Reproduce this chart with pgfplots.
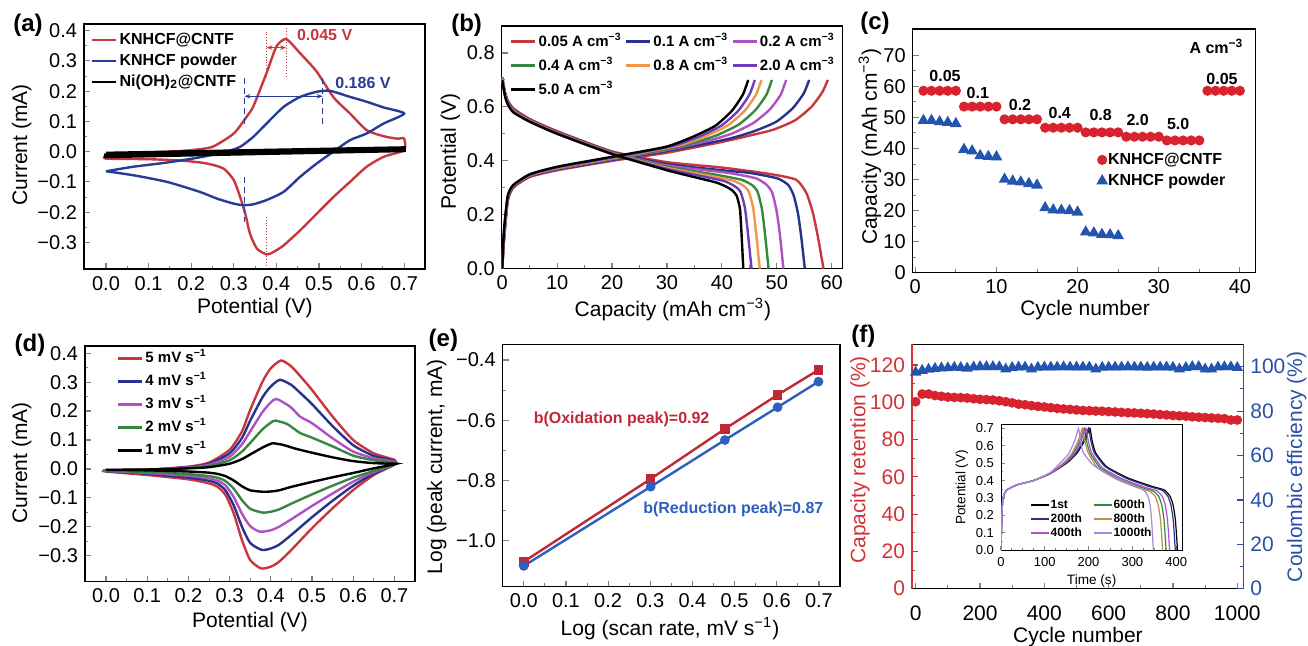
\documentclass[border=0pt]{standalone}
\usepackage{fontspec}
\setmainfont{Liberation Sans}
\usepackage{pgfplots}
\pgfplotsset{compat=1.18}
\usetikzlibrary{arrows.meta}

\definecolor{cvred}{RGB}{200,55,62}
\definecolor{cvblue}{RGB}{40,60,150}
\definecolor{navy}{RGB}{40,50,140}
\definecolor{rmag}{RGB}{175,80,195}
\definecolor{rgreen}{RGB}{55,135,65}
\definecolor{rorange}{RGB}{240,150,70}
\definecolor{rpurple}{RGB}{110,60,190}
\definecolor{dotred}{RGB}{215,35,45}
\definecolor{triblue}{RGB}{35,85,175}
\definecolor{ered}{RGB}{190,40,55}
\definecolor{eblue}{RGB}{45,95,190}
\definecolor{fred}{RGB}{210,50,55}
\definecolor{fblue}{RGB}{40,80,170}
\definecolor{ftan}{RGB}{185,140,80}
\definecolor{flav}{RGB}{165,135,225}

\pgfplotsset{
  panel/.style={
    scale only axis,
    anchor=north west,
    tick align=inside,
    tick pos=left,
    minor tick num=1,
    major tick length=3pt,
    minor tick length=1.7pt,
    axis line style={line width=0.7pt},
    major tick style={line width=0.6pt},
    minor tick style={line width=0.5pt},
    tick label style={font=\fontsize{10}{12}\selectfont},
    label style={font=\fontsize{10.5}{12}\selectfont},
    /pgf/number format/assume math mode=true,
    legend cell align=left,
    legend style={draw=none, fill=none, inner sep=0pt, outer sep=0pt,
      font=\fontsize{8}{9.6}\selectfont\bfseries, anchor=north west,
      nodes={text height=6pt, text depth=1.8pt, inner sep=1pt}},
    every axis plot/.append style={line width=1.2pt},
  },
  xlab/.style 2 args={xlabel style={at={(axis description cs:#1,#2)}, anchor=center}},
  ylab/.style 2 args={ylabel style={at={(axis description cs:#1,#2)}, anchor=center}},
  lineleg/.style={legend image code/.code={\draw[##1,line width=1.4pt] (0pt,0pt) -- (12pt,0pt);}},
}

\begin{document}
\begin{tikzpicture}
\path[use as bounding box] (0,0) rectangle (654pt,-323pt);

\begin{scope}[font=\fontsize{12}{14}\selectfont\bfseries]
\node at (14pt,-12.5pt) {(a)};
\node at (233.3pt,-12.5pt) {(b)};
\node at (437.5pt,-11.7pt) {(c)};
\node at (15pt,-172.5pt) {(d)};
\node at (221.7pt,-170pt) {(e)};
\node at (431.7pt,-168.3pt) {(f)};
\end{scope}

% ---------------- (a) CV comparison
\begin{axis}[panel, at={(42pt,-12pt)}, width=170.5pt, height=122.5pt,
  xmin=-0.0517, xmax=0.749, ymin=-0.388, ymax=0.422,
  xtick={0,0.1,0.2,0.3,0.4,0.5,0.6,0.7},
  xticklabels={0.0,0.1,0.2,0.3,0.4,0.5,0.6,0.7},
  ytick={-0.3,-0.2,-0.1,0,0.1,0.2,0.3,0.4},
  yticklabels={−0.3,−0.2,−0.1,0.0,0.1,0.2,0.3,0.4},
  xlabel={Potential (V)}, ylabel={Current (mA)},
  xlab={0.501}{-0.159}, ylab={-0.183}{0.506},
  lineleg, legend style={at={(0.02,0.975)}, /tikz/row sep=0.7pt},
]
\addplot[cvred, smooth, tension=0.4] coordinates {
(0,-0.012)(0.05,-0.008)(0.1,-0.004)(0.15,0.0)(0.2,0.005)(0.25,0.016)(0.3,0.06)
(0.33,0.115)(0.346,0.15)(0.377,0.26)(0.40,0.347)(0.423,0.372)(0.456,0.325)
(0.495,0.264)(0.534,0.18)(0.573,0.126)(0.612,0.071)(0.652,0.051)(0.683,0.043)
(0.70,0.043)(0.70,0.005)(0.652,-0.017)(0.612,-0.05)(0.573,-0.1)(0.534,-0.15)
(0.495,-0.205)(0.456,-0.26)(0.417,-0.31)(0.393,-0.332)(0.377,-0.34)(0.354,-0.32)
(0.338,-0.271)(0.327,-0.205)(0.315,-0.15)(0.3,-0.094)(0.276,-0.056)(0.236,-0.039)
(0.18,-0.03)(0.1,-0.025)(0,-0.023)(0,-0.012)};
\addlegendentry{KNHCF@CNTF}
\addplot[cvblue, smooth, tension=0.4] coordinates {
(0,-0.065)(0.064,-0.05)(0.143,-0.036)(0.22,-0.019)(0.283,0.0)(0.315,0.016)
(0.346,0.049)(0.377,0.093)(0.417,0.148)(0.456,0.181)(0.495,0.198)(0.526,0.201)
(0.573,0.181)(0.612,0.165)(0.652,0.146)(0.70,0.126)(0.652,0.093)(0.612,0.06)
(0.573,0.038)(0.534,0.0)(0.495,-0.039)(0.456,-0.083)(0.417,-0.133)(0.377,-0.16)
(0.346,-0.174)(0.323,-0.177)(0.3,-0.172)(0.26,-0.155)(0.22,-0.133)(0.143,-0.1)
(0.064,-0.078)(0,-0.065)};
\addlegendentry{KNHCF powder}
\addplot[black, line width=1.8pt] coordinates {
(0,-0.006)(0.7,0.012)(0.7,0.004)(0,-0.016)(0,-0.006)};
\addlegendentry{Ni(OH)\textsubscript{2}@CNTF}
\draw[cvred, thin, densely dotted] (axis cs:0.377,0.397) -- (axis cs:0.377,0.248);
\draw[cvred, thin, densely dotted] (axis cs:0.377,-0.216) -- (axis cs:0.377,-0.381);
\draw[cvred, thin, densely dotted] (axis cs:0.423,0.408) -- (axis cs:0.423,0.248);
\draw[cvred, line width=0.8pt, {Stealth[length=3pt]}-{Stealth[length=3pt]}] (axis cs:0.377,0.344) -- (axis cs:0.423,0.344);
\node[cvred, anchor=west, font=\fontsize{8}{9.6}\selectfont\bfseries] at (axis cs:0.432,0.386) {0.045 V};
\draw[cvblue, thin, densely dashed] (axis cs:0.325,0.242) -- (axis cs:0.325,0.091);
\draw[cvblue, thin, densely dashed] (axis cs:0.325,-0.083) -- (axis cs:0.325,-0.232);
\draw[cvblue, thin, densely dashed] (axis cs:0.509,0.242) -- (axis cs:0.509,0.091);
\draw[cvblue, line width=0.5pt, {Stealth[length=3pt]}-{Stealth[length=3pt]}] (axis cs:0.325,0.183) -- (axis cs:0.509,0.183);
\node[cvblue, anchor=west, font=\fontsize{8}{9.6}\selectfont\bfseries] at (axis cs:0.522,0.228) {0.186 V};
\end{axis}

% ---------------- (b) GCD curves
\begin{axis}[panel, at={(250.85pt,-13pt)}, width=170.5pt, height=121.35pt,
  xmin=-0.1, xmax=62, ymin=0, ymax=0.9,
  xtick={0,10,20,30,40,50,60},
  ytick={0,0.2,0.4,0.6,0.8}, yticklabels={0.0,0.2,0.4,0.6,0.8},
  xlabel={Capacity (mAh cm\textsuperscript{−3})}, ylabel={Potential (V)},
  xlab={0.502}{-0.170}, ylab={-0.150}{0.482},
  legend image code/.code={\draw[#1,line width=1.4pt] (0pt,0pt) -- (12pt,0pt);},
  legend columns=3,
  legend style={at={(0.024,0.975)}, font=\fontsize{7.5}{9}\selectfont\bfseries,
    /tikz/row sep=2.2pt,
    /tikz/every even column/.append style={column sep=0.5pt}},
  every axis plot/.append style={smooth, tension=0.35},
]
\addplot[cvred] coordinates {(0,0)(0.3,0.1)(1,0.25)(2,0.30)(5,0.34)(10,0.365)(20,0.40)(30,0.43)(40,0.47)(44.3,0.49)(49.3,0.515)(53.3,0.55)(56.3,0.60)(58.3,0.655)(59.3,0.70)};
\addlegendentry{0.05 A cm\textsuperscript{−3}}
\addplot[cvred, forget plot] coordinates {(0,0.71)(0.5,0.655)(1,0.625)(2,0.595)(5,0.555)(10,0.51)(20,0.435)(30,0.395)(40,0.375)(48.5,0.352)(53.5,0.33)(55.4,0.28)(56.6,0.205)(57.6,0.106)(58.5,0)};
\addplot[navy] coordinates {(0,0)(0.3,0.1)(1,0.255)(2,0.303)(5,0.343)(10,0.368)(20,0.403)(30,0.436)(40.9,0.48)(45.9,0.51)(49.9,0.545)(52.9,0.595)(54.9,0.65)(55.9,0.70)};
\addlegendentry{0.1 A cm\textsuperscript{−3}}
\addplot[navy, forget plot] coordinates {(0,0.71)(0.5,0.65)(1,0.62)(2,0.59)(5,0.552)(10,0.507)(20,0.432)(30,0.388)(40,0.365)(45.1,0.355)(50.1,0.335)(52.1,0.31)(53.1,0.27)(53.9,0.20)(54.5,0.11)(55.1,0)};
\addplot[rmag] coordinates {(0,0)(0.3,0.11)(1,0.26)(2,0.305)(5,0.345)(10,0.37)(20,0.406)(30,0.44)(36.7,0.47)(41.7,0.50)(45.7,0.54)(48.7,0.59)(50.7,0.645)(51.7,0.70)};
\addlegendentry{0.2 A cm\textsuperscript{−3}}
\addplot[rmag, forget plot] coordinates {(0,0.71)(0.5,0.648)(1,0.618)(2,0.588)(5,0.55)(10,0.505)(20,0.43)(30,0.383)(41.2,0.355)(46.2,0.335)(48.2,0.31)(49.2,0.28)(50.0,0.21)(50.6,0.12)(51.2,0)};
\addplot[rgreen] coordinates {(0,0)(0.3,0.12)(1,0.262)(2,0.307)(5,0.346)(10,0.372)(20,0.408)(30,0.443)(34.1,0.462)(39.1,0.495)(43.1,0.535)(46.1,0.588)(48.1,0.645)(49.1,0.70)};
\addlegendentry{0.4 A cm\textsuperscript{−3}}
\addplot[rgreen, forget plot] coordinates {(0,0.705)(0.5,0.646)(1,0.616)(2,0.586)(5,0.549)(10,0.504)(20,0.43)(30,0.378)(38.5,0.35)(43.5,0.33)(45.5,0.31)(46.5,0.285)(47.3,0.22)(47.9,0.12)(48.5,0)};
\addplot[rorange] coordinates {(0,0)(0.3,0.12)(1,0.265)(2,0.308)(5,0.347)(10,0.374)(20,0.41)(32.2,0.457)(37.2,0.493)(41.2,0.533)(44.2,0.587)(46.2,0.645)(47.2,0.70)};
\addlegendentry{0.8 A cm\textsuperscript{−3}}
\addplot[rorange, forget plot] coordinates {(0,0.705)(0.5,0.644)(1,0.614)(2,0.584)(5,0.548)(10,0.503)(20,0.428)(30,0.374)(36.9,0.348)(41.9,0.327)(43.9,0.308)(44.9,0.285)(45.7,0.225)(46.3,0.12)(46.9,0)};
\addplot[rpurple] coordinates {(0,0)(0.3,0.13)(1,0.267)(2,0.309)(5,0.348)(10,0.376)(20,0.412)(31,0.455)(36,0.491)(40,0.532)(43,0.586)(45,0.645)(46,0.70)};
\addlegendentry{2.0 A cm\textsuperscript{−3}}
\addplot[rpurple, forget plot] coordinates {(0,0.70)(0.5,0.642)(1,0.612)(2,0.582)(5,0.546)(10,0.502)(20,0.427)(30,0.37)(35.4,0.347)(40.4,0.325)(42.4,0.305)(43.4,0.285)(44.2,0.225)(44.8,0.12)(45.4,0)};
\addplot[black] coordinates {(0,0)(0.3,0.14)(1,0.27)(2,0.31)(5,0.35)(10,0.378)(20,0.415)(29.8,0.452)(34.8,0.49)(38.8,0.53)(41.8,0.585)(43.8,0.645)(44.8,0.70)};
\addlegendentry{5.0 A cm\textsuperscript{−3}}
\addplot[black, forget plot] coordinates {(0,0.70)(0.5,0.64)(1,0.61)(2,0.58)(5,0.545)(10,0.50)(20,0.425)(30,0.365)(33.9,0.345)(38.9,0.32)(40.9,0.303)(41.9,0.29)(42.7,0.27)(43.3,0.22)(43.6,0.12)(43.9,0)};
\end{axis}

% ---------------- (c) rate capability
\begin{axis}[panel, at={(456.35pt,-14.5pt)}, width=171.3pt, height=121.85pt,
  xmin=-0.32, xmax=41.9, ymin=0, ymax=78.5,
  xtick={0,10,20,30,40}, ytick={0,10,20,30,40,50,60,70},
  xlabel={Cycle number}, ylabel={Capacity (mAh cm\textsuperscript{−3})},
  xlab={0.503}{-0.153}, ylab={-0.125}{0.517},
  legend style={at={(0.542,0.503)}, /tikz/row sep=0.7pt},
  legend image code/.code={\draw[mark repeat=2,mark phase=2,#1] plot coordinates {(0pt,0pt)(3pt,0pt)(6pt,0pt)};},
]
\addplot[only marks, mark=*, mark size=1.9pt, dotred, draw=none] coordinates {
(1,58.6)(2,58.6)(3,58.6)(4,58.6)(5,58.6)(6,53.5)(7,53.5)(8,53.5)(9,53.5)(10,53.5)
(11,49.4)(12,49.4)(13,49.4)(14,49.4)(15,49.4)(16,46.7)(17,46.7)(18,46.7)(19,46.7)(20,46.7)
(21,45.2)(22,45.2)(23,45.2)(24,45.2)(25,45.2)(26,43.8)(27,43.8)(28,43.8)(29,43.8)(30,43.8)
(31,42.6)(32,42.6)(33,42.6)(34,42.6)(35,42.6)(36,58.6)(37,58.6)(38,58.6)(39,58.6)(40,58.6)};
\addlegendentry{KNHCF@CNTF}
\addplot[only marks, mark=triangle*, mark size=2.2pt, triblue, draw=none] coordinates {
(1,49.0)(2,49.0)(3,48.6)(4,48.4)(5,48.0)(6,39.7)(7,39.2)(8,37.7)(9,37.4)(10,37.3)
(11,30.1)(12,29.5)(13,29.2)(14,28.7)(15,28.2)(16,20.9)(17,20.2)(18,20.1)(19,20.0)(20,19.5)
(21,13.1)(22,12.8)(23,12.3)(24,12.2)(25,11.9)};
\addlegendentry{KNHCF powder}
\begin{scope}[font=\fontsize{8}{9.6}\selectfont\bfseries]
\node at (axis cs:3.66,63.3) {0.05};
\node at (axis cs:7.7,58) {0.1};
\node at (axis cs:12.9,54) {0.2};
\node at (axis cs:17.8,51.3) {0.4};
\node at (axis cs:22.85,50.8) {0.8};
\node at (axis cs:27.4,49.2) {2.0};
\node at (axis cs:32.4,47.9) {5.0};
\node at (axis cs:37.8,62.4) {0.05};
\node[anchor=east] at (axis cs:41.3,72.8) {A cm\textsuperscript{−3}};
\end{scope}
\end{axis}

% ---------------- (d) CV at scan rates
\begin{axis}[panel, at={(42.5pt,-173pt)}, width=165pt, height=117.85pt,
  xmin=-0.051, xmax=0.75, ymin=-0.39, ymax=0.425,
  xtick={0,0.1,0.2,0.3,0.4,0.5,0.6,0.7},
  xticklabels={0.0,0.1,0.2,0.3,0.4,0.5,0.6,0.7},
  ytick={-0.3,-0.2,-0.1,0,0.1,0.2,0.3,0.4},
  yticklabels={−0.3,−0.2,−0.1,0.0,0.1,0.2,0.3,0.4},
  xlabel={Potential (V)}, ylabel={Current (mA)},
  xlab={0.5}{-0.170}, ylab={-0.192}{0.504},
  lineleg, legend style={at={(0.096,0.989)}, font=\fontsize{7.5}{9}\selectfont\bfseries, /tikz/row sep=1.7pt},
  every axis plot/.append style={smooth, tension=0.4},
]
\addplot[cvred] coordinates {
(0,-0.005)(0.1,-0.003)(0.2,0.008)(0.25,0.022)(0.3,0.066)(0.33,0.13)(0.35,0.204)(0.38,0.302)(0.40,0.348)(0.425,0.375)(0.45,0.354)(0.475,0.315)(0.5,0.273)(0.55,0.181)(0.6,0.10)(0.65,0.054)(0.7,0.031)
(0.7,0.015)(0.65,-0.021)(0.6,-0.073)(0.55,-0.136)(0.5,-0.205)(0.45,-0.28)(0.42,-0.321)(0.40,-0.338)(0.376,-0.344)(0.35,-0.315)(0.33,-0.246)(0.31,-0.154)(0.29,-0.09)(0.27,-0.061)(0.25,-0.05)(0.2,-0.036)(0.1,-0.021)(0,-0.009)(0,-0.005)};
\addlegendentry{5 mV s\textsuperscript{−1}}
\addplot[navy] coordinates {
(0,-0.005)(0.1,-0.003)(0.2,0.006)(0.25,0.018)(0.3,0.054)(0.33,0.107)(0.35,0.167)(0.38,0.248)(0.40,0.285)(0.422,0.308)(0.45,0.29)(0.475,0.258)(0.5,0.224)(0.55,0.148)(0.6,0.082)(0.65,0.045)(0.7,0.028)
(0.7,0.015)(0.65,-0.016)(0.6,-0.058)(0.55,-0.11)(0.5,-0.167)(0.45,-0.228)(0.42,-0.262)(0.40,-0.275)(0.378,-0.28)(0.35,-0.256)(0.33,-0.2)(0.31,-0.126)(0.29,-0.074)(0.27,-0.05)(0.25,-0.041)(0.2,-0.03)(0.1,-0.017)(0,-0.008)(0,-0.005)};
\addlegendentry{4 mV s\textsuperscript{−1}}
\addplot[rmag] coordinates {
(0,-0.004)(0.1,-0.003)(0.2,0.005)(0.25,0.014)(0.3,0.042)(0.33,0.085)(0.35,0.13)(0.38,0.197)(0.40,0.23)(0.414,0.242)(0.447,0.215)(0.471,0.181)(0.5,0.158)(0.55,0.106)(0.6,0.06)(0.65,0.037)(0.7,0.025)
(0.7,0.015)(0.65,-0.011)(0.6,-0.044)(0.55,-0.085)(0.5,-0.128)(0.45,-0.174)(0.42,-0.2)(0.40,-0.212)(0.374,-0.217)(0.35,-0.198)(0.33,-0.155)(0.31,-0.097)(0.29,-0.057)(0.27,-0.04)(0.25,-0.033)(0.2,-0.024)(0.1,-0.014)(0,-0.007)(0,-0.004)};
\addlegendentry{3 mV s\textsuperscript{−1}}
\addplot[rgreen] coordinates {
(0,-0.004)(0.1,-0.003)(0.2,0.003)(0.25,0.01)(0.3,0.03)(0.33,0.06)(0.35,0.09)(0.38,0.137)(0.40,0.16)(0.411,0.167)(0.44,0.155)(0.47,0.125)(0.5,0.108)(0.55,0.078)(0.6,0.046)(0.65,0.03)(0.7,0.022)
(0.7,0.016)(0.65,-0.007)(0.6,-0.03)(0.55,-0.058)(0.5,-0.088)(0.45,-0.12)(0.42,-0.14)(0.40,-0.148)(0.38,-0.151)(0.35,-0.138)(0.33,-0.108)(0.31,-0.068)(0.29,-0.042)(0.27,-0.03)(0.25,-0.025)(0.2,-0.018)(0.1,-0.011)(0,-0.006)(0,-0.004)};
\addlegendentry{2 mV s\textsuperscript{−1}}
\addplot[black] coordinates {
(0,-0.003)(0.1,-0.002)(0.2,0.002)(0.25,0.006)(0.3,0.018)(0.33,0.034)(0.35,0.05)(0.38,0.074)(0.40,0.087)(0.405,0.089)(0.43,0.083)(0.46,0.07)(0.5,0.056)(0.55,0.04)(0.6,0.027)(0.65,0.02)(0.7,0.018)
(0.7,0.016)(0.65,0.002)(0.6,-0.014)(0.55,-0.029)(0.5,-0.045)(0.45,-0.062)(0.42,-0.074)(0.40,-0.078)(0.38,-0.079)(0.35,-0.074)(0.33,-0.06)(0.31,-0.04)(0.29,-0.025)(0.27,-0.017)(0.25,-0.013)(0.2,-0.009)(0.1,-0.005)(0,-0.003)};
\addlegendentry{1 mV s\textsuperscript{−1}}
\end{axis}

% ---------------- (e) log-log
\begin{axis}[panel, at={(251.35pt,-172.15pt)}, width=168.65pt, height=121.2pt,
  xmin=-0.05, xmax=0.75, ymin=-1.153, ymax=-0.348,
  xtick={0,0.1,0.2,0.3,0.4,0.5,0.6,0.7},
  xticklabels={0.0,0.1,0.2,0.3,0.4,0.5,0.6,0.7},
  ytick={-1.0,-0.8,-0.6,-0.4}, yticklabels={−1.0,−0.8,−0.6,−0.4},
  xlabel={Log (scan rate, mV s\textsuperscript{−1})}, ylabel={Log (peak current, mA)},
  xlab={0.496}{-0.172}, ylab={-0.196}{0.495},
]
\addplot[ered, mark=square*, mark size=1.8pt] coordinates {
(0,-1.07)(0.301,-0.795)(0.477,-0.629)(0.602,-0.516)(0.699,-0.433)};
\addplot[eblue, mark=*, mark size=1.8pt] coordinates {
(0,-1.084)(0.301,-0.821)(0.477,-0.666)(0.602,-0.557)(0.699,-0.472)};
\node[ered, font=\fontsize{8}{9.6}\selectfont\bfseries] at (axis cs:0.232,-0.596) {b(Oxidation peak)=0.92};
\node[eblue, font=\fontsize{8}{9.6}\selectfont\bfseries] at (axis cs:0.497,-0.895) {b(Reduction peak)=0.87};
\end{axis}

% ---------------- (f) cycling, twin axes
\begin{axis}[panel, at={(456pt,-172.15pt)}, width=165.65pt, height=122.2pt,
  xmin=-11.5, xmax=1018.7, ymin=0, ymax=131.1,
  tick label style={font=\fontsize{10.5}{12}\selectfont},
  xticklabel style={yshift=-5pt},
  axis y line*=left,
  y axis line style={fred},
  ytick style={fred},
  yticklabel style={text=fred}, ylabel style={text=fred},
  xtick={0,200,400,600,800,1000}, xticklabels={0,200,400,600,800,1000},
  ytick={0,20,40,60,80,100,120},
  xlabel={Cycle number}, ylabel={Capacity retention (\%)},
  xlab={0.501}{-0.196}, ylab={-0.157}{0.527},
]
\addplot[only marks, mark=*, mark size=1.8pt, dotred, draw=none] coordinates {
(0,100.3)(20,104.4)(40,104.4)(60,103.6)(80,103.2)(100,102.8)(120,102.6)(140,102.5)(160,102.3)(180,101.9)
(200,101.6)(220,101.4)(240,101.2)(260,100.8)(280,100.3)(300,99.7)(320,99.0)(340,98.7)(360,98.2)(380,97.8)
(400,97.5)(420,97.1)(440,96.7)(460,96.4)(480,96.2)(500,95.9)(520,95.6)(540,95.5)(560,95.3)(580,95.2)
(600,95.0)(620,94.8)(640,94.6)(660,94.4)(680,94.3)(700,94.1)(720,93.9)(740,93.7)(760,93.4)(780,93.2)
(800,92.9)(820,92.7)(840,92.5)(860,92.2)(880,92.0)(900,91.8)(920,91.6)(940,91.4)(960,91.2)(980,90.5)(1000,90.5)};
\end{axis}
\begin{axis}[panel, at={(456pt,-172.15pt)}, width=165.65pt, height=122.2pt,
  xmin=-11.5, xmax=1018.7, ymin=0, ymax=110.1,
  tick label style={font=\fontsize{10.5}{12}\selectfont},
  axis x line=none, axis y line*=right, ytick pos=right, yticklabel pos=right,
  y axis line style={fblue}, ytick style={fblue},
  yticklabel style={text=fblue},
  ytick={0,20,40,60,80,100},
  ylabel={Coulombic efficiency (\%)},
  ylabel style={at={(axis description cs:1.161,0.499)}, anchor=center, text=fblue},
]
\addplot[only marks, mark=triangle*, mark size=2.1pt, triblue, draw=none] coordinates {
(0,97.5)(20,98.3)(40,98.8)(60,99.2)(80,99.4)(100,99.5)(120,99.7)(140,99.6)(160,99.3)(180,99.8)
(200,100)(220,100)(240,100)(260,99.9)(280,98.9)(300,99.6)(320,99.8)(340,99.8)(360,98.9)(380,99.7)
(400,99.8)(420,99.8)(440,99.8)(460,99.9)(480,99.8)(500,99.8)(520,99.8)(540,99.8)(560,98.9)(580,99.7)
(600,99.8)(620,99.8)(640,99.8)(660,99.9)(680,99.8)(700,99.8)(720,99.7)(740,99.8)(760,99.8)(780,99.8)
(800,99.7)(820,98.9)(840,99.6)(860,100)(880,100)(900,98.9)(920,98.9)(940,99.8)(960,99.9)(980,99.9)(1000,99.6)};
\end{axis}

% ---------------- (f) inset
\begin{axis}[panel, at={(500.5pt,-212.15pt)}, width=90.65pt, height=63pt,
  xmin=0, xmax=414, ymin=0, ymax=0.723,
  axis background/.style={fill=white},
  major tick length=2pt, minor tick length=1.2pt,
  axis line style={line width=0.5pt},
  tick label style={font=\fontsize{6.5}{7.5}\selectfont},
  label style={font=\fontsize{6.8}{8}\selectfont},
  xlabel style={yshift=3pt}, ylabel style={yshift=-3pt},
  xtick={0,100,200,300,400}, minor x tick num=3,
  ytick={0,0.1,0.2,0.3,0.4,0.5,0.6,0.7},
  yticklabels={0.0,0.1,0.2,0.3,0.4,0.5,0.6,0.7},
  xlabel={Time (s)}, ylabel={Potential (V)},
  every axis plot/.append style={line width=0.6pt, smooth, tension=0.3},
  legend columns=2,
  legend image code/.code={\draw[#1,line width=0.8pt] (0pt,0pt) -- (9pt,0pt);},
  legend style={at={(0.16,0.415)}, font=\fontsize{6}{7}\selectfont\bfseries,
    nodes={text height=4.5pt, text depth=1.2pt, inner sep=0.5pt},
    /tikz/row sep=0.4pt, /tikz/every even column/.append style={column sep=5pt}},
]
\addplot[black] coordinates {(0,0)(1.5,0.15)(3.8,0.29)(8,0.325)(13,0.346)(36,0.375)(74,0.40)(112,0.44)(150,0.50)(173,0.556)(192,0.633)(203,0.70)(208,0.63)(216,0.56)(241,0.48)(290,0.415)(341,0.37)(373,0.346)(386,0.31)(393,0.26)(398,0.18)(401,0.08)(403,0)};
\addlegendentry{1st}
\addplot[rgreen] coordinates {(0,0)(1.5,0.15)(3.8,0.29)(8,0.325)(13,0.346)(36,0.375)(74,0.40)(112,0.442)(144,0.50)(165,0.556)(181,0.633)(190,0.70)(195,0.63)(203,0.56)(227,0.472)(272,0.408)(318,0.363)(347,0.34)(360,0.31)(367,0.26)(372,0.18)(375,0.08)(377,0)};
\addlegendentry{600th}
\addplot[navy] coordinates {(0,0)(1.5,0.15)(3.8,0.29)(8,0.325)(13,0.346)(36,0.375)(74,0.40)(112,0.44)(148,0.50)(171,0.556)(189,0.633)(200,0.70)(205,0.63)(213,0.56)(238,0.48)(286,0.413)(336,0.368)(368,0.344)(381,0.31)(388,0.26)(393,0.18)(396,0.08)(398,0)};
\addlegendentry{200th}
\addplot[ftan] coordinates {(0,0)(1.5,0.15)(3.8,0.29)(8,0.325)(13,0.346)(36,0.375)(74,0.40)(112,0.443)(142,0.50)(162,0.556)(177,0.633)(186,0.70)(191,0.63)(199,0.56)(222,0.47)(266,0.405)(311,0.36)(339,0.338)(352,0.31)(359,0.26)(364,0.18)(367,0.08)(369,0)};
\addlegendentry{800th}
\addplot[rmag] coordinates {(0,0)(1.5,0.15)(3.8,0.29)(8,0.325)(13,0.346)(36,0.375)(74,0.40)(112,0.441)(146,0.50)(168,0.556)(184,0.633)(194,0.70)(199,0.63)(207,0.56)(231,0.475)(277,0.41)(325,0.365)(355,0.342)(368,0.31)(375,0.26)(380,0.18)(383,0.08)(385,0)};
\addlegendentry{400th}
\addplot[flav] coordinates {(0,0)(1.5,0.15)(3.8,0.29)(8,0.325)(13,0.346)(36,0.375)(74,0.40)(112,0.445)(135,0.50)(155,0.556)(169,0.633)(177,0.70)(181,0.63)(188,0.56)(210,0.49)(241,0.442)(280,0.395)(318,0.356)(330,0.335)(337,0.30)(341,0.25)(344,0.17)(346,0.08)(348,0)};
\addlegendentry{1000th}
\end{axis}
\end{tikzpicture}
\end{document}
